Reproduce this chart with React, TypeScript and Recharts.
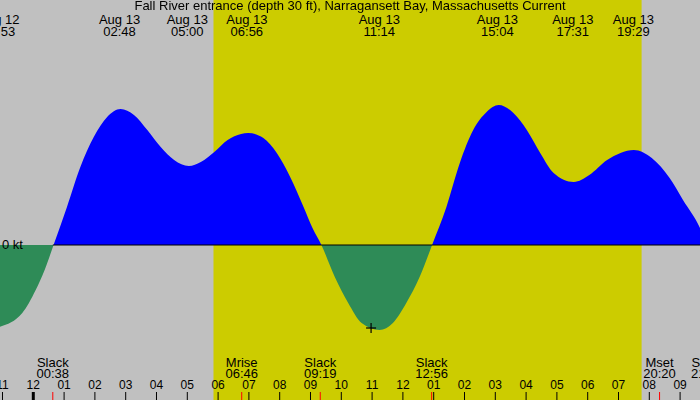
import React from 'react';
import {
  ComposedChart,
  Area,
  XAxis,
  YAxis,
  ReferenceArea,
  ReferenceLine,
  Scatter,
} from 'recharts';

const TITLE = 'Fall River entrance (depth 30 ft), Narragansett Bay, Massachusetts Current';

// current speed (knots) read at hours since Aug 13 00:00
const curveTimes = [
  -1.117, -0.357, 0.078, 0.368, 0.658, 1.093, 1.528, 1.963, 2.397, 2.833, 3.268, 3.702,
  4.137, 4.572, 5.05, 5.44, 5.876, 6.31, 6.746, 6.977, 7.47, 7.905, 8.34, 8.775,
  9.065, 9.354, 9.789, 10.224, 10.659, 11.24, 11.675, 12.11, 12.543, 12.948, 13.413,
  13.848, 14.283, 14.718, 15.11, 15.588, 16.023, 16.458, 16.893, 17.545, 18.052,
  18.63, 19.065, 19.5, 20.08, 20.66, 21.094, 21.646, 21.883,
];
const curveKnots = [
  -0.82, -0.68, -0.45, -0.25, 0, 0.38, 0.78, 1.08, 1.28, 1.36, 1.3, 1.15,
  0.98, 0.85, 0.79, 0.83, 0.93, 1.05, 1.11, 1.12, 1.07, 0.92, 0.68, 0.38,
  0.17, 0, -0.32, -0.58, -0.78, -0.85, -0.78, -0.58, -0.32, 0, 0.38,
  0.82, 1.15, 1.33, 1.4, 1.32, 1.15, 0.92, 0.72, 0.63, 0.7,
  0.85, 0.92, 0.95, 0.87, 0.67, 0.45, 0.17, 0,
];

const hourTicks = [-1, 0, 1, 2, 3, 4, 5, 6, 7, 8, 9, 10, 11, 12, 13, 14, 15, 16, 17, 18, 19, 20, 21];

const topDayOffsets = [-1, 0, 0, 0, 0, 0, 0, 0];
const topDates = ['Aug 12', 'Aug 13', 'Aug 13', 'Aug 13', 'Aug 13', 'Aug 13', 'Aug 13', 'Aug 13'];
const topTimes = ['22:53', '02:48', '05:00', '06:56', '11:14', '15:04', '17:31', '19:29'];

const bottomNames = ['Slack', 'Mrise', 'Slack', 'Slack', 'Mset', 'Slack'];
const bottomTimes = ['00:38', '06:46', '09:19', '12:56', '20:20', '21:53'];

const sunrise = '05:51';
const sunset = '19:45';

const nowTime = '10:58';
const nowKnots = -0.83;

const X_DOMAIN: [number, number] = [-1.081, 21.646];
const Y_DOMAIN: [number, number] = [-1.55, 2.45];

const FONT = '"Liberation Sans", Arial, sans-serif';
const BG = '#c0c0c0';
const DAY = '#cccc00';
const FLOOD = '#0000ff';
const EBB = '#2e8b57';

const toHours = (s: string, day = 0) => {
  const [h, m] = s.split(':').map(Number);
  return h + m / 60 + day * 24;
};

const data = curveTimes.map((t, i) => ({ t, v: curveKnots[i] }));
const nowData = [{ t: toHours(nowTime), v: nowKnots }];

const hourLabel = (h: number) => {
  const hh = ((h % 12) + 12) % 12 || 12;
  return String(hh).padStart(2, '0');
};

const HourTick = (props: any) => {
  const { x, payload } = props;
  const h = payload.value as number;
  const midnight = ((h % 24) + 24) % 24 === 0;
  return (
    <g>
      <text x={x} y={389} textAnchor="middle" fontFamily={FONT} fontSize={12} fill="#000">
        {hourLabel(h)}
      </text>
      <line x1={x} x2={x} y1={392} y2={400} stroke="#000" strokeWidth={midnight ? 3 : 1} />
    </g>
  );
};

const ZeroTick = (props: any) => {
  const { y } = props;
  return (
    <text x={2} y={y + 4} fontFamily={FONT} fontSize={13} fill="#000">
      0 kt
    </text>
  );
};

const topLabel = (date: string, time: string) => (props: any) => {
  const x = props.viewBox?.x ?? 0;
  return (
    <g>
      <text x={x} y={24} textAnchor="middle" fontFamily={FONT} fontSize={13} fill="#000">
        {date}
      </text>
      <text x={x} y={36} textAnchor="middle" fontFamily={FONT} fontSize={13} fill="#000">
        {time}
      </text>
    </g>
  );
};

const bottomLabel = (name: string, time: string) => (props: any) => {
  const x = props.viewBox?.x ?? 0;
  return (
    <g>
      <text x={x} y={367} textAnchor="middle" fontFamily={FONT} fontSize={13} fill="#000">
        {name}
      </text>
      <text x={x} y={378} textAnchor="middle" fontFamily={FONT} fontSize={13} fill="#000">
        {time}
      </text>
      <line x1={x} x2={x} y1={392} y2={400} stroke="#ff0000" strokeWidth={1} />
    </g>
  );
};

const Cross = (props: any) => {
  const { cx, cy } = props;
  return (
    <g stroke="#000" strokeWidth={1.2}>
      <line x1={cx - 5} x2={cx + 5} y1={cy} y2={cy} />
      <line x1={cx} x2={cx} y1={cy - 5} y2={cy + 5} />
    </g>
  );
};

const zeroOffset = Y_DOMAIN[1] / (Y_DOMAIN[1] - Y_DOMAIN[0]);

export default function App() {
  return (
    <div style={{ position: 'fixed', left: 0, top: 0, width: 700, height: 400, background: BG }}>
      <ComposedChart
        width={700}
        height={400}
        data={data}
        margin={{ top: 0, right: 0, bottom: 0, left: 0 }}
      >
        <defs>
          <linearGradient id="flowFill" gradientUnits="userSpaceOnUse" x1="0" y1="0" x2="0" y2="400">
            <stop offset={zeroOffset} stopColor={FLOOD} />
            <stop offset={zeroOffset} stopColor={EBB} />
          </linearGradient>
        </defs>
        <XAxis
          dataKey="t"
          type="number"
          domain={X_DOMAIN}
          allowDataOverflow
          ticks={hourTicks}
          interval={0}
          mirror
          axisLine={false}
          tickLine={false}
          tick={<HourTick />}
        />
        <YAxis
          type="number"
          domain={Y_DOMAIN}
          allowDataOverflow
          ticks={[0]}
          mirror
          axisLine={false}
          tickLine={false}
          tick={<ZeroTick />}
        />
        <ReferenceArea
          x1={toHours(sunrise)}
          x2={toHours(sunset)}
          y1={Y_DOMAIN[0]}
          y2={Y_DOMAIN[1]}
          fill={DAY}
          fillOpacity={1}
          stroke="none"
        />
        <Area
          dataKey="v"
          type="monotone"
          baseValue={0}
          stroke="none"
          fill="url(#flowFill)"
          fillOpacity={1}
          dot={false}
          activeDot={false}
          isAnimationActive={false}
        />
        <ReferenceLine
          segment={[
            { x: toHours(bottomTimes[0]), y: 0 },
            { x: X_DOMAIN[1], y: 0 },
          ]}
          stroke="#000"
          strokeWidth={1}
        />
        {topTimes.map((tm, i) => (
          <ReferenceLine
            key={'top' + i}
            x={toHours(tm, topDayOffsets[i])}
            stroke="none"
            ifOverflow="visible"
            label={topLabel(topDates[i], tm)}
          />
        ))}
        {bottomTimes.map((tm, i) => (
          <ReferenceLine
            key={'bot' + i}
            x={toHours(tm)}
            stroke="none"
            ifOverflow="visible"
            label={bottomLabel(bottomNames[i], tm)}
          />
        ))}
        <Scatter data={nowData} dataKey="v" shape={<Cross />} isAnimationActive={false} />
      </ComposedChart>
      <div
        style={{
          position: 'absolute',
          left: 0,
          top: -1,
          width: 700,
          textAlign: 'center',
          fontFamily: FONT,
          fontSize: 13,
          lineHeight: '14px',
          color: '#000',
          pointerEvents: 'none',
        }}
      >
        {TITLE}
      </div>
    </div>
  );
}
